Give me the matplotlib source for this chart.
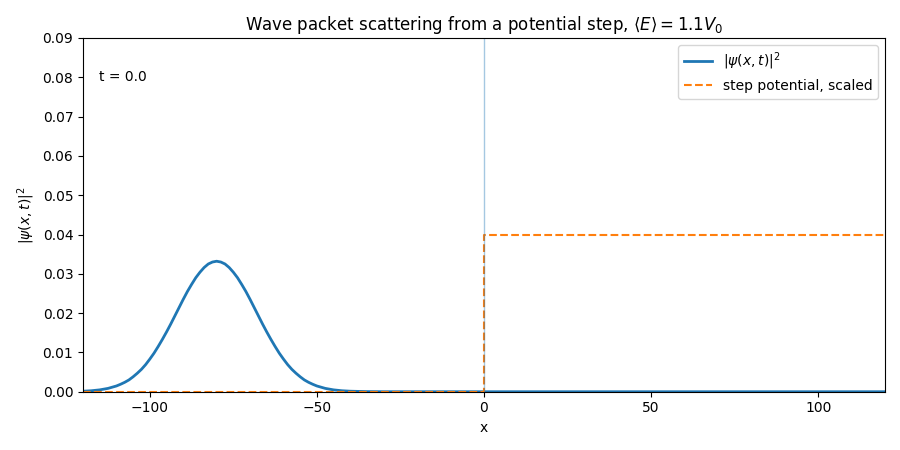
import numpy as np
import matplotlib
matplotlib.use("Agg")
import matplotlib.pyplot as plt

# |psi(x, t=0)|^2 (packet centred near x = -80)
x_vals = [-120, -117.5, -115, -112.5, -110, -108.75, -107.5, -106.25, -105, -103.75,
          -102.5, -101.25, -100, -98.75, -97.5, -96.25, -95, -93.75, -92.5, -91.25,
          -90, -88.75, -87.5, -86.25, -85, -83.75, -82.5, -81.25, -80, -78.75,
          -77.5, -76.25, -75, -73.75, -72.5, -71.25, -70, -68.75, -67.5, -66.25,
          -65, -63.75, -62.5, -61.25, -60, -58.75, -57.5, -56.25, -55, -53.75,
          -52.5, -51.25, -50, -47.5, -45, -42.5, -40, -35, -30, -20,
          -10, 0, 20, 40, 60, 80, 100, 120]
prob_vals = [0.00013, 0.00025, 0.00047, 0.00085, 0.00146, 0.0019, 0.0024, 0.0030, 0.0038, 0.0047,
             0.0057, 0.0069, 0.0083, 0.0098, 0.0115, 0.0133, 0.0152, 0.0172, 0.0193, 0.0214,
             0.0235, 0.0255, 0.0273, 0.0290, 0.0304, 0.0316, 0.0325, 0.0330, 0.0332, 0.0330,
             0.0325, 0.0316, 0.0304, 0.0290, 0.0273, 0.0255, 0.0235, 0.0214, 0.0193, 0.0172,
             0.0152, 0.0133, 0.0115, 0.0098, 0.0083, 0.0069, 0.0057, 0.0047, 0.0038, 0.0030,
             0.0024, 0.0019, 0.00146, 0.00085, 0.00047, 0.00025, 0.00013, 0.00003, 0.0, 0.0,
             0.0, 0.0, 0.0, 0.0, 0.0, 0.0, 0.0, 0.0]

# step potential (scaled to the plot)
step_x = [-120, 0, 0, 120]
step_v = [0.0, 0.0, 0.04, 0.04]

time_label = "t = 0.0"

fig, ax = plt.subplots(figsize=(9, 4.5), dpi=100)
fig.subplots_adjust(left=0.0922, right=0.9833, top=0.9156, bottom=0.1295)
ax.plot(x_vals, prob_vals, lw=2, color="C0", label=r"$|\psi(x,t)|^2$")
ax.plot(step_x, step_v, "--", color="C1", label="step potential, scaled")
ax.axvline(0, color="C0", lw=1, alpha=0.4)
ax.set_xlim(-120, 120)
ax.set_ylim(0, 0.09)
ax.set_xlabel("x")
ax.set_ylabel(r"$|\psi(x,t)|^2$")
ax.set_title(r"Wave packet scattering from a potential step, $\langle E\rangle = 1.1 V_0$")
ax.text(0.02, 0.909, time_label, transform=ax.transAxes, va="top")
ax.legend(loc="upper right")
fig.savefig("out.png")
